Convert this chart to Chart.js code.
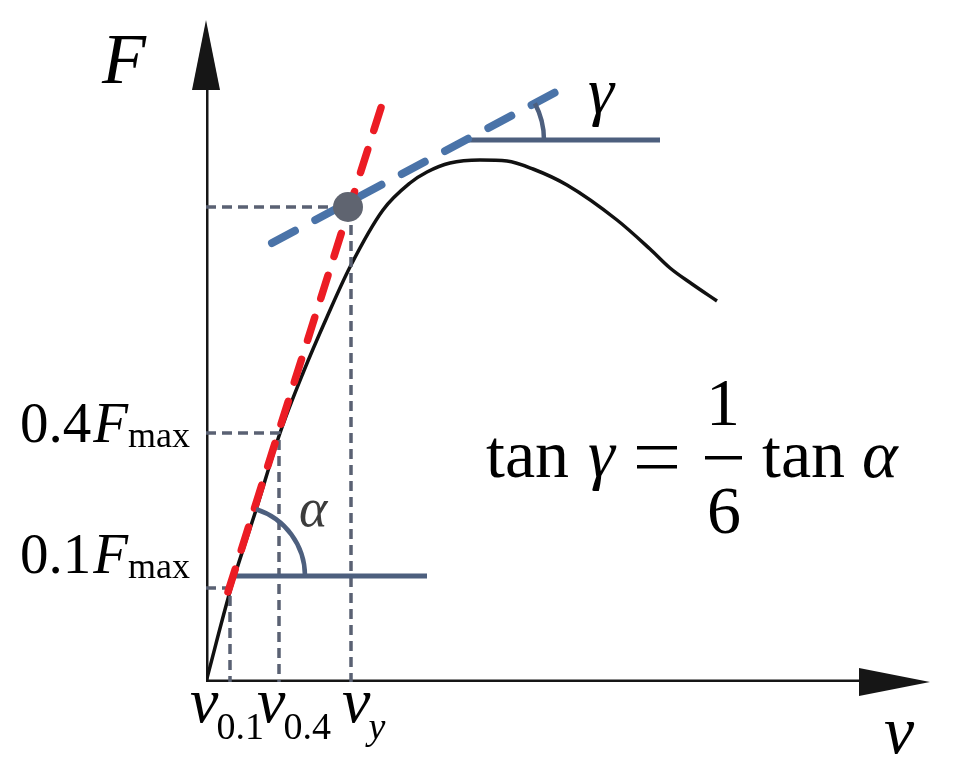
<!DOCTYPE html>
<html>
<head>
<meta charset="utf-8">
<script src="https://cdn.jsdelivr.net/npm/chart.js@4.4.1/dist/chart.umd.min.js"></script>
<style>
  html, body { margin: 0; padding: 0; background: #fff; }
</style>
</head>
<body>
<canvas id="diagram" width="962" height="774"></canvas>
<script>
// force-displacement curve (plot units)
const curveV = [0, 25, 50, 74, 97, 121, 144, 177, 204, 221, 244, 274, 301, 327, 361, 411, 444, 464, 486, 511];
const curveF = [0, 94, 172, 249, 309, 365, 415, 472, 499, 510, 519, 522, 521, 513, 497, 462, 433, 414, 398, 381];

// characteristic points
const v01 = 24, F01 = 94;
const v04 = 73, F04 = 249;
const vy = 145, Fy = 475;

// initial stiffness (red) and hardening (blue) tangents, end points
const tanAlphaV = [22, 179];
const tanAlphaF = [90, 587];
const tanGammaV = [66, 367];
const tanGammaF = [439, 599];

// horizontal reference legs of the two angles
const alphaLegV = [29, 221];
const alphaLegF = [106, 106];
const gammaLegV = [260, 454];
const gammaLegF = [542, 542];

// axes
const axisMaxV = 724;
const axisMaxF = 662;

// labels
const yTickValues = [F01, F04];
const yTickLabels = ["0.1", "0.4"];
const xTickValues = [v01, v04, vy];
const xTickLabels = ["0.1", "0.4", "y"];

const pts = (xs, ys) => xs.map((x, i) => ({ x: x, y: ys[i] }));

const serif = '"Liberation Serif", "DejaVu Serif", serif';

const diagramDecor = {
    id: "diagramDecor",
    afterDatasetsDraw(chart) {
        const ctx = chart.ctx;
        const sx = chart.scales.x;
        const sy = chart.scales.y;
        const px = (v) => sx.getPixelForValue(v);
        const py = (v) => sy.getPixelForValue(v);
        const x0 = px(0), y0 = py(0);

        ctx.save();

        // arrow heads
        ctx.fillStyle = "#161616";
        ctx.beginPath();
        ctx.moveTo(px(0), py(axisMaxF));
        ctx.lineTo(x0 - 14, py(axisMaxF - 70));
        ctx.lineTo(x0 + 14, py(axisMaxF - 70));
        ctx.closePath();
        ctx.fill();
        ctx.beginPath();
        ctx.moveTo(px(axisMaxV), y0);
        ctx.lineTo(px(axisMaxV - 71), y0 - 14);
        ctx.lineTo(px(axisMaxV - 71), y0 + 14);
        ctx.closePath();
        ctx.fill();

        // angle arcs
        ctx.strokeStyle = "#4d5f7e";
        ctx.lineWidth = 4.5;
        const aAng = Math.atan2(py(tanAlphaF[0]) - py(tanAlphaF[1]), px(tanAlphaV[1]) - px(tanAlphaV[0]));
        ctx.beginPath();
        ctx.arc(px(alphaLegV[0]), py(alphaLegF[0]), 70, -aAng, 0);
        ctx.stroke();
        const gAng = Math.atan2(py(tanGammaF[0]) - py(tanGammaF[1]), px(tanGammaV[1]) - px(tanGammaV[0]));
        ctx.beginPath();
        ctx.arc(px(gammaLegV[0]), py(gammaLegF[0]), 78, -gAng, 0);
        ctx.stroke();

        ctx.fillStyle = "#000";
        ctx.textBaseline = "alphabetic";

        // axis names
        ctx.font = "italic 72px " + serif;
        ctx.textAlign = "left";
        ctx.fillText("F", x0 - 104, py(axisMaxF) + 63);
        ctx.font = "italic 68px " + serif;
        ctx.fillText("ν", px(axisMaxV) - 46, y0 + 71);

        // y labels: 0.1F_max, 0.4F_max
        const yOff = [-15, 9];
        yTickValues.forEach((f, i) => {
            const base = py(f) + yOff[i];
            let right = x0 - 16;
            ctx.textAlign = "right";
            ctx.font = "36px " + serif;
            ctx.fillText("max", right, base + 5);
            right -= ctx.measureText("max").width;
            ctx.font = "italic 57px " + serif;
            ctx.fillText("F", right, base);
            right -= ctx.measureText("F").width + 2;
            ctx.font = "57px " + serif;
            ctx.fillText(yTickLabels[i], right, base);
        });

        // x labels: v_0.1, v_0.4, v_y
        const xOff = [-40, -22, -9];
        xTickValues.forEach((v, i) => {
            let left = px(v) + xOff[i];
            ctx.textAlign = "left";
            ctx.font = "italic 64px " + serif;
            ctx.fillText("ν", left, y0 + 40);
            left += ctx.measureText("ν").width - 2;
            ctx.font = (xTickLabels[i] === "y" ? "italic " : "") + "38px " + serif;
            ctx.fillText(xTickLabels[i], left, y0 + 57);
        });

        // angle names
        ctx.font = "italic 66px " + serif;
        ctx.fillText("γ", px(gammaLegV[0]) + 122, py(gammaLegF[0]) - 27);
        ctx.fillStyle = "#3c3c3c";
        ctx.font = "italic 54px " + serif;
        ctx.fillText("α", px(alphaLegV[0]) + 64, py(alphaLegF[0]) - 50);

        // relation tan γ = 1/6 tan α
        ctx.fillStyle = "#000";
        ctx.font = "68px " + serif;
        ctx.textAlign = "left";
        ctx.fillText("tan", 486, 477);
        ctx.font = "italic 68px " + serif;
        ctx.fillText("γ", 588, 477);
        ctx.fillRect(637, 446, 40, 3.5);
        ctx.fillRect(637, 465, 40, 3.5);
        ctx.font = "68px " + serif;
        ctx.textAlign = "center";
        ctx.fillText("1", 723, 425);
        ctx.fillText("6", 724, 533);
        ctx.fillRect(705, 456, 37, 3.5);
        ctx.textAlign = "left";
        ctx.fillText("tan", 762, 477);
        ctx.font = "italic 68px " + serif;
        ctx.fillText("α", 862, 477);

        ctx.restore();
    }
};

const refDash = { borderColor: "#5a6173", borderWidth: 3.5, borderDash: [10, 6], pointRadius: 0, showLine: true, fill: false };

new Chart(document.getElementById("diagram"), {
    type: "scatter",
    data: {
        datasets: [
            // point of yield
            { data: [{ x: vy - 3, y: Fy }], pointRadius: 15, pointBackgroundColor: "#5f6470", pointBorderWidth: 0, order: 0 },
            // tangents
            { data: pts(tanAlphaV, tanAlphaF), showLine: true, borderColor: "#ec1c24", borderWidth: 7.5, borderDash: [24, 20], borderCapStyle: "round", pointRadius: 0, order: 1 },
            { data: pts(tanGammaV, tanGammaF), showLine: true, borderColor: "#4a73a8", borderWidth: 8, borderDash: [26, 23], borderCapStyle: "round", pointRadius: 0, order: 2 },
            // angle legs
            { data: pts(alphaLegV, alphaLegF), showLine: true, borderColor: "#4d5f7e", borderWidth: 5, pointRadius: 0, order: 3 },
            { data: pts(gammaLegV, gammaLegF), showLine: true, borderColor: "#4d5f7e", borderWidth: 5, pointRadius: 0, order: 3 },
            // projection lines
            Object.assign({ data: pts([0, v01, v01], [F01, F01, 0]), order: 4 }, refDash),
            Object.assign({ data: pts([0, v04, v04], [F04, F04, 0]), order: 4 }, refDash),
            Object.assign({ data: pts([0, vy - 3], [Fy, Fy]), order: 4 }, refDash),
            Object.assign({ data: pts([vy, vy], [Fy - 18, 0]), order: 4 }, refDash),
            // force-displacement curve
            { data: pts(curveV, curveF), showLine: true, borderColor: "#111", borderWidth: 3.5, cubicInterpolationMode: "monotone", pointRadius: 0, order: 5 },
            // axes
            { data: pts([0, 0], [0, axisMaxF - 60]), showLine: true, borderColor: "#161616", borderWidth: 5, pointRadius: 0, order: 6 },
            { data: pts([0, axisMaxV - 60], [0, 0]), showLine: true, borderColor: "#161616", borderWidth: 5, pointRadius: 0, order: 6 },
        ],
    },
    options: {
        responsive: false,
        animation: false,
        layout: { padding: { left: 206, right: 32, top: 20, bottom: 92 } },
        scales: {
            x: { type: "linear", min: 0, max: axisMaxV, display: false },
            y: { type: "linear", min: 0, max: axisMaxF, display: false },
        },
        plugins: {
            legend: { display: false },
            tooltip: { enabled: false },
        },
        elements: { line: { tension: 0 } },
    },
    plugins: [diagramDecor],
});
</script>
</body>
</html>
